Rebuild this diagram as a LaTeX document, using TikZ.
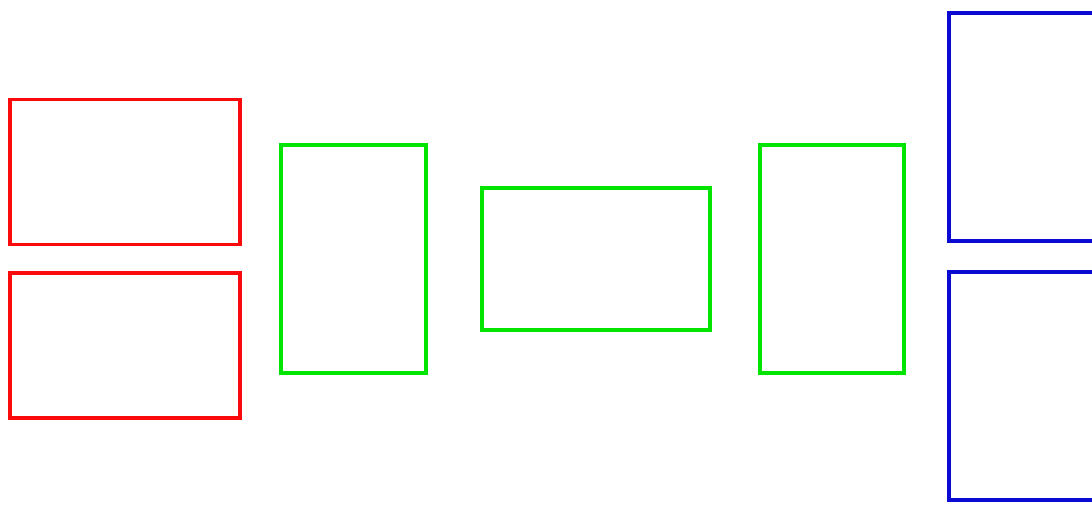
\documentclass[tikz,border=0pt]{standalone}
\definecolor{boxred}{RGB}{250,10,10}
\definecolor{boxgreen}{RGB}{0,228,0}
\definecolor{boxblue}{RGB}{10,10,210}
\begin{document}
\begin{tikzpicture}[x=1pt,y=-1pt,
  frame/.style={draw, line width=3.6pt, inner sep=0pt, outer sep=0pt},
  redbox/.style={frame, draw=boxred},
  greenbox/.style={frame, draw=boxgreen},
  bluebox/.style={frame, draw=boxblue}]
\useasboundingbox (0,0) rectangle (1092,504);
\clip (0,0) rectangle (1092,504);
\fill[white] (0,0) rectangle (1092,504);
\node[redbox, minimum width=230pt, minimum height=145pt] (r1) at (125,172) {};
\node[redbox, minimum width=230pt, minimum height=145pt] (r2) at (125,345.5) {};
\node[greenbox, minimum width=145pt, minimum height=228pt] (g1) at (353.5,259) {};
\node[greenbox, minimum width=228pt, minimum height=142pt] (g2) at (596,259) {};
\node[greenbox, minimum width=144pt, minimum height=228pt] (g3) at (832,259) {};
\node[bluebox, minimum width=150pt, minimum height=228pt] (b1) at (1024,127) {};
\node[bluebox, minimum width=150pt, minimum height=228pt] (b2) at (1024,386) {};
\end{tikzpicture}
\end{document}
